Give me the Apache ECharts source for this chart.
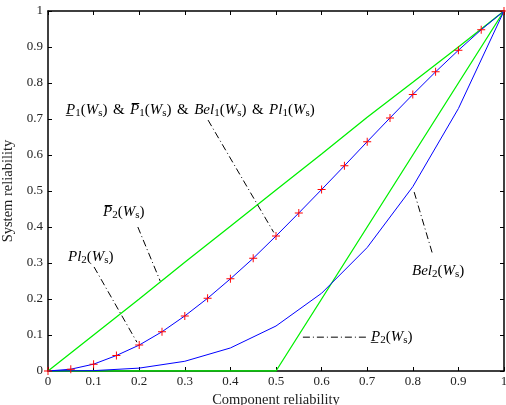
<!DOCTYPE html>
<html>
<head>
<meta charset="utf-8">
<script src="https://cdn.jsdelivr.net/npm/echarts@6/dist/echarts.min.js"></script>
<style>
  html, body { margin: 0; padding: 0; background: #fff; }
  #chart-container { width: 506px; height: 405px; }
</style>
</head>
<body>
<div id="chart-container"></div>
<script>
  // component reliability grids
  var xFine = [0, 0.05, 0.1, 0.15, 0.2, 0.25, 0.3, 0.35, 0.4, 0.45, 0.5, 0.55, 0.6, 0.65, 0.7, 0.75, 0.8, 0.85, 0.9, 0.95, 1];
  var xCoarse = [0, 0.1, 0.2, 0.3, 0.4, 0.5, 0.6, 0.7, 0.8, 0.9, 1];

  // P1 & P1bar & Bel1 & Pl1 (blue with red markers)
  var p1Values = [0, 0.005, 0.019, 0.043, 0.072, 0.109, 0.153, 0.202, 0.256, 0.313, 0.375, 0.439, 0.504, 0.570, 0.637, 0.703, 0.768, 0.831, 0.891, 0.948, 1];
  // upper probability P2bar (green)
  var pUpper2 = [0, 0.1, 0.2, 0.302, 0.402, 0.503, 0.603, 0.705, 0.802, 0.9, 1];
  // lower probability P2 (green)
  var pLower2 = [0, 0, 0, 0, 0, 0, 0.2, 0.4, 0.6, 0.8, 1];
  // belief Bel2 (blue)
  var bel2Values = [0, 0.001, 0.008, 0.027, 0.064, 0.125, 0.216, 0.343, 0.512, 0.729, 1];

  function zip(xs, ys) {
    var out = [];
    for (var i = 0; i < xs.length; i++) out.push([xs[i], ys[i]]);
    return out;
  }

  var serif = "Liberation Serif";
  var plus = "path://M0,4.4H10V5.6H0Z M4.4,0H5.6V10H4.4Z";

  var dom = document.getElementById("chart-container");
  var myChart = echarts.init(dom, null, { renderer: "canvas" });

  var axisCommon = {
    type: "value",
    min: 0,
    max: 1,
    interval: 0.1,
    splitLine: { show: false },
    axisLine: { show: true, onZero: false, lineStyle: { color: "#000", width: 1.5 } },
    axisTick: { show: true, inside: true, length: 4, lineStyle: { color: "#000" } },
  };

  var option = {
    animation: false,
    backgroundColor: "#fff",
    grid: { left: 48, right: 2, top: 11, bottom: 34, containLabel: false, outerBoundsMode: "none" },
    xAxis: [
      Object.assign({}, axisCommon, {
        position: "bottom",
        axisLabel: { color: "#222", fontFamily: serif, fontSize: 13, margin: 4 },
        name: "Component reliability",
        nameLocation: "middle",
        nameGap: 19,
        nameTextStyle: { color: "#222", fontFamily: serif, fontSize: 14.5 },
      }),
      Object.assign({}, axisCommon, { position: "top", axisLabel: { show: false } }),
    ],
    yAxis: [
      Object.assign({}, axisCommon, {
        position: "left",
        axisLabel: { color: "#222", fontFamily: serif, fontSize: 13, margin: 5 },
        name: "System reliability",
        nameLocation: "middle",
        nameGap: 30,
        nameTextStyle: { color: "#222", fontFamily: serif, fontSize: 14.5 },
      }),
      Object.assign({}, axisCommon, { position: "right", axisLabel: { show: false } }),
    ],
    series: [
      {
        type: "line",
        data: zip(xCoarse, pUpper2),
        showSymbol: false,
        lineStyle: { color: "#00f000", width: 1.3 },
      },
      {
        type: "line",
        data: zip(xCoarse, pLower2),
        showSymbol: false,
        lineStyle: { color: "#00f000", width: 1.3 },
      },
      {
        type: "line",
        data: zip(xCoarse, bel2Values),
        showSymbol: false,
        lineStyle: { color: "#0000ff", width: 1 },
      },
      {
        type: "line",
        data: zip(xFine, p1Values),
        symbol: plus,
        symbolSize: 8,
        showSymbol: true,
        itemStyle: { color: "#ff0000" },
        lineStyle: { color: "#0000ff", width: 1 },
        z: 5,
      },
    ],
  };

  myChart.setOption(option);

  // annotation leader lines (data coordinates) and labels
  var leaders = [
    [[0.351, 0.697], [0.495, 0.385]],
    [[0.197, 0.4], [0.246, 0.25]],
    [[0.101, 0.289], [0.195, 0.08]],
    [[0.803, 0.497], [0.844, 0.322]],
    [[0.559, 0.094], [0.702, 0.094]],
  ];

  var rich = {
    i: { fontFamily: serif, fontStyle: "italic", fontSize: 15, color: "#222" },
    r: { fontFamily: serif, fontSize: 15, color: "#222" },
    a: { fontFamily: serif, fontSize: 15, color: "#222", padding: [0, 5.5, 0, 5.5] },
    s: { fontFamily: serif, fontSize: 11, color: "#222", padding: [6, 0, 0, 0] },
  };
  function ws() { return "{r|(}{i|W}{s|s}{r|)}"; }
  var labels = [
    { x: 66, y: 110, text: "{i|P\u0332}{s|1}" + ws() + "{a|&}{i|P\u0305}{s|1}" + ws() + "{a|&}{i|Bel}{s|1}" + ws() + "{a|&}{i|Pl}{s|1}" + ws() },
    { x: 103, y: 212, text: "{i|P\u0305}{s|2}" + ws() },
    { x: 68, y: 257, text: "{i|Pl}{s|2}" + ws() },
    { x: 412, y: 271, text: "{i|Bel}{s|2}" + ws() },
    { x: 371, y: 337, text: "{i|P\u0332}{s|2}" + ws() },
  ];

  var graphics = [];
  for (var k = 0; k < leaders.length; k++) {
    var a = myChart.convertToPixel({ gridIndex: 0 }, leaders[k][0]);
    var b = myChart.convertToPixel({ gridIndex: 0 }, leaders[k][1]);
    graphics.push({
      type: "line",
      shape: { x1: a[0], y1: a[1], x2: b[0], y2: b[1] },
      style: { stroke: "#000", lineWidth: 1, lineDash: [7, 3, 1, 3] },
      z: 10,
    });
  }
  for (var j = 0; j < labels.length; j++) {
    graphics.push({
      type: "text",
      x: labels[j].x,
      y: labels[j].y,
      style: { text: labels[j].text, rich: rich, verticalAlign: "middle", align: "left" },
      z: 10,
    });
  }
  myChart.setOption({ graphic: graphics });

  window.addEventListener("resize", myChart.resize);
</script>
</body>
</html>
